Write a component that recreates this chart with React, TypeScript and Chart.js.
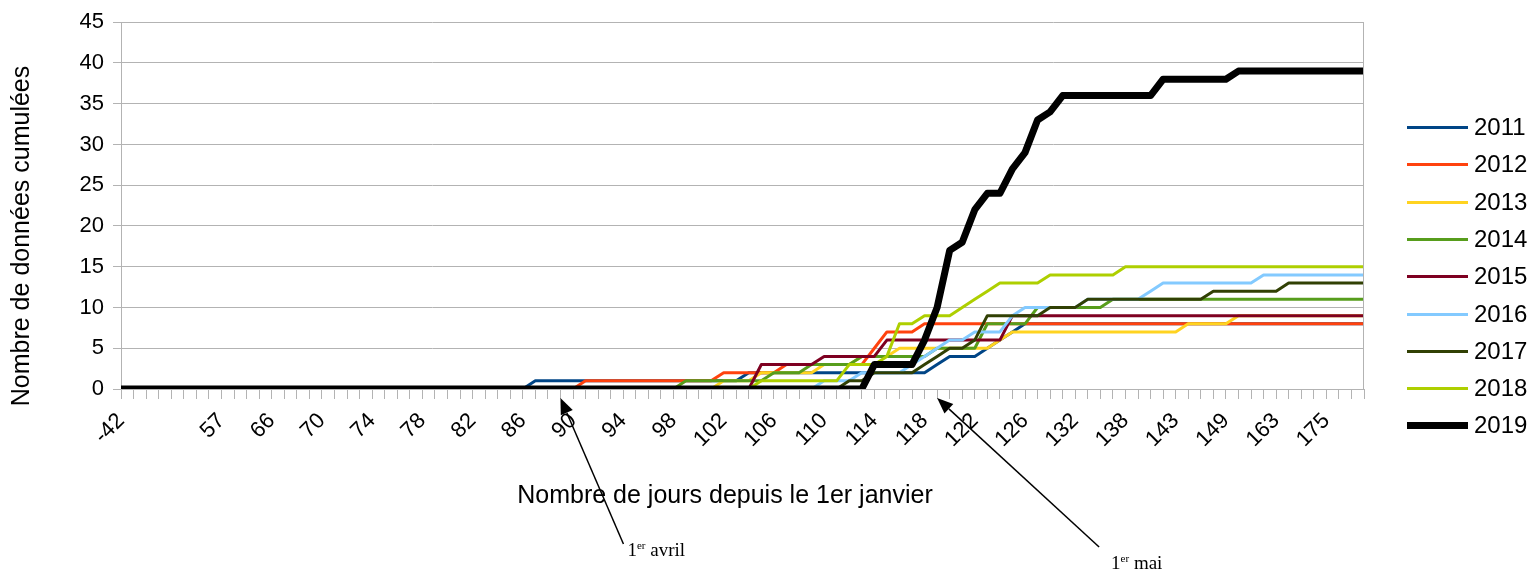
import React, { useEffect, useRef } from 'react';
import { Chart, registerables } from 'chart.js';

Chart.register(...registerables);

// Day numbers (categories) — only every 4th one is labelled on the axis
const categories: string[] = [
  '-42', '-12', '15', '31', '', '44', '49', '53', '57', '60',
  '62', '64', '66', '67', '68', '69', '70', '71', '72', '73',
  '74', '75', '76', '77', '78', '79', '80', '81', '82', '83',
  '84', '85', '86', '87', '88', '89', '90', '91', '92', '93',
  '94', '95', '96', '97', '98', '99', '100', '101', '102', '103',
  '104', '105', '106', '107', '108', '109', '110', '111', '112', '113',
  '114', '115', '116', '117', '118', '119', '120', '121', '122', '123',
  '124', '125', '126', '127', '129', '130', '132', '133', '135', '136',
  '138', '139', '140', '141', '143', '144', '146', '147', '149', '152',
  '156', '160', '163', '166', '169', '172', '175', '177', '180', '182',
];

const s2011: number[] = [
  0, 0, 0, 0, 0, 0, 0, 0, 0, 0,
  0, 0, 0, 0, 0, 0, 0, 0, 0, 0,
  0, 0, 0, 0, 0, 0, 0, 0, 0, 0,
  0, 0, 0, 1, 1, 1, 1, 1, 1, 1,
  1, 1, 1, 1, 1, 1, 1, 1, 1, 1,
  2, 2, 2, 2, 2, 2, 2, 2, 2, 2,
  2, 2, 2, 2, 2, 3, 4, 4, 4, 5,
  6, 7, 8, 8, 8, 8, 8, 8, 8, 8,
  8, 8, 8, 8, 8, 8, 8, 8, 8, 8,
  8, 8, 8, 8, 8, 8, 8, 8, 8, 8,
];

const s2012: number[] = [
  0, 0, 0, 0, 0, 0, 0, 0, 0, 0,
  0, 0, 0, 0, 0, 0, 0, 0, 0, 0,
  0, 0, 0, 0, 0, 0, 0, 0, 0, 0,
  0, 0, 0, 0, 0, 0, 0, 1, 1, 1,
  1, 1, 1, 1, 1, 1, 1, 1, 2, 2,
  2, 2, 2, 3, 3, 3, 3, 3, 3, 3,
  5, 7, 7, 7, 8, 8, 8, 8, 8, 8,
  8, 8, 8, 8, 8, 8, 8, 8, 8, 8,
  8, 8, 8, 8, 8, 8, 8, 8, 8, 8,
  8, 8, 8, 8, 8, 8, 8, 8, 8, 8,
];

const s2013: number[] = [
  0, 0, 0, 0, 0, 0, 0, 0, 0, 0,
  0, 0, 0, 0, 0, 0, 0, 0, 0, 0,
  0, 0, 0, 0, 0, 0, 0, 0, 0, 0,
  0, 0, 0, 0, 0, 0, 0, 0, 0, 0,
  0, 0, 0, 0, 0, 0, 0, 0, 1, 1,
  1, 2, 2, 2, 2, 2, 3, 3, 3, 4,
  4, 4, 5, 5, 5, 5, 5, 5, 5, 5,
  6, 7, 7, 7, 7, 7, 7, 7, 7, 7,
  7, 7, 7, 7, 7, 8, 8, 8, 8, 9,
  9, 9, 9, 9, 9, 9, 9, 9, 9, 9,
];

const s2014: number[] = [
  0, 0, 0, 0, 0, 0, 0, 0, 0, 0,
  0, 0, 0, 0, 0, 0, 0, 0, 0, 0,
  0, 0, 0, 0, 0, 0, 0, 0, 0, 0,
  0, 0, 0, 0, 0, 0, 0, 0, 0, 0,
  0, 0, 0, 0, 0, 1, 1, 1, 1, 1,
  1, 1, 2, 2, 2, 3, 3, 3, 3, 4,
  4, 4, 4, 4, 4, 5, 5, 5, 5, 8,
  8, 8, 8, 10, 10, 10, 10, 10, 10, 11,
  11, 11, 11, 11, 11, 11, 11, 11, 11, 11,
  11, 11, 11, 11, 11, 11, 11, 11, 11, 11,
];

const s2015: number[] = [
  0, 0, 0, 0, 0, 0, 0, 0, 0, 0,
  0, 0, 0, 0, 0, 0, 0, 0, 0, 0,
  0, 0, 0, 0, 0, 0, 0, 0, 0, 0,
  0, 0, 0, 0, 0, 0, 0, 0, 0, 0,
  0, 0, 0, 0, 0, 0, 0, 0, 0, 0,
  0, 3, 3, 3, 3, 3, 4, 4, 4, 4,
  4, 6, 6, 6, 6, 6, 6, 6, 6, 6,
  6, 9, 9, 9, 9, 9, 9, 9, 9, 9,
  9, 9, 9, 9, 9, 9, 9, 9, 9, 9,
  9, 9, 9, 9, 9, 9, 9, 9, 9, 9,
];

const s2016: number[] = [
  0, 0, 0, 0, 0, 0, 0, 0, 0, 0,
  0, 0, 0, 0, 0, 0, 0, 0, 0, 0,
  0, 0, 0, 0, 0, 0, 0, 0, 0, 0,
  0, 0, 0, 0, 0, 0, 0, 0, 0, 0,
  0, 0, 0, 0, 0, 0, 0, 0, 0, 0,
  0, 0, 0, 0, 0, 0, 1, 1, 1, 2,
  2, 2, 2, 3, 4, 5, 6, 6, 7, 7,
  7, 9, 10, 10, 10, 10, 10, 11, 11, 11,
  11, 11, 12, 13, 13, 13, 13, 13, 13, 13,
  13, 14, 14, 14, 14, 14, 14, 14, 14, 14,
];

const s2017: number[] = [
  0, 0, 0, 0, 0, 0, 0, 0, 0, 0,
  0, 0, 0, 0, 0, 0, 0, 0, 0, 0,
  0, 0, 0, 0, 0, 0, 0, 0, 0, 0,
  0, 0, 0, 0, 0, 0, 0, 0, 0, 0,
  0, 0, 0, 0, 0, 0, 0, 0, 0, 0,
  0, 0, 0, 0, 0, 0, 0, 0, 1, 1,
  2, 2, 2, 2, 3, 4, 5, 5, 6, 9,
  9, 9, 9, 9, 10, 10, 10, 11, 11, 11,
  11, 11, 11, 11, 11, 11, 11, 12, 12, 12,
  12, 12, 12, 13, 13, 13, 13, 13, 13, 13,
];

const s2018: number[] = [
  0, 0, 0, 0, 0, 0, 0, 0, 0, 0,
  0, 0, 0, 0, 0, 0, 0, 0, 0, 0,
  0, 0, 0, 0, 0, 0, 0, 0, 0, 0,
  0, 0, 0, 0, 0, 0, 0, 0, 0, 0,
  0, 0, 0, 0, 0, 0, 0, 0, 0, 0,
  0, 1, 1, 1, 1, 1, 1, 1, 3, 3,
  3, 4, 8, 8, 9, 9, 9, 10, 11, 12,
  13, 13, 13, 13, 14, 14, 14, 14, 14, 14,
  15, 15, 15, 15, 15, 15, 15, 15, 15, 15,
  15, 15, 15, 15, 15, 15, 15, 15, 15, 15,
];

const s2019: number[] = [
  0, 0, 0, 0, 0, 0, 0, 0, 0, 0,
  0, 0, 0, 0, 0, 0, 0, 0, 0, 0,
  0, 0, 0, 0, 0, 0, 0, 0, 0, 0,
  0, 0, 0, 0, 0, 0, 0, 0, 0, 0,
  0, 0, 0, 0, 0, 0, 0, 0, 0, 0,
  0, 0, 0, 0, 0, 0, 0, 0, 0, 0,
  3, 3, 3, 3, 6, 10, 17, 18, 22, 24,
  24, 27, 29, 33, 34, 36, 36, 36, 36, 36,
  36, 36, 36, 38, 38, 38, 38, 38, 38, 39,
  39, 39, 39, 39, 39, 39, 39, 39, 39, 39,
];

const seriesNames: string[] = ['2011', '2012', '2013', '2014', '2015', '2016', '2017', '2018', '2019'];
const seriesValues: number[][] = [s2011, s2012, s2013, s2014, s2015, s2016, s2017, s2018, s2019];
const seriesColors: string[] = ['#004586', '#ff420e', '#ffd320', '#579d1c', '#7e0021', '#83caff', '#314004', '#aecf00', '#000000'];
const seriesWidths: number[] = [3, 3, 3, 3, 3, 3, 3, 3, 7];

const yTitle = 'Nombre de données cumulées';
const xTitle = 'Nombre de jours depuis le 1er janvier';
// annotation arrows: category index pointed at, and label
const annotations = [
  { index: 35, dx: 63, dy: 146, text: 'avril', textDx: 67, textDy: 158 },
  { index: 65, dx: 162, dy: 149, text: 'mai', textDx: 174, textDy: 171 },
];

const SANS = '"Liberation Sans", Arial, sans-serif';
const SERIF = '"Liberation Serif", "Times New Roman", serif';

const decorPlugin = {
  id: 'decor',
  afterDraw(chart: any) {
    const { ctx, chartArea, scales } = chart;
    const xs = scales.x;
    const ys = scales.y;
    ctx.save();

    // right border of plot
    ctx.strokeStyle = '#b3b3b3';
    ctx.lineWidth = 1;
    const rx = Math.round(chartArea.right) - 0.5;
    ctx.beginPath();
    ctx.moveTo(rx, chartArea.top);
    ctx.lineTo(rx, chartArea.bottom);
    ctx.stroke();

    // y title
    ctx.fillStyle = '#000';
    ctx.font = `25px ${SANS}`;
    ctx.save();
    ctx.translate(22, 236);
    ctx.rotate(-Math.PI / 2);
    ctx.textAlign = 'center';
    ctx.textBaseline = 'middle';
    ctx.fillText(yTitle, 0, 0);
    ctx.restore();

    // x title
    ctx.textAlign = 'center';
    ctx.textBaseline = 'middle';
    ctx.fillText(xTitle, 725, 496);

    // legend
    const legendTop = 127;
    const legendStep = 37.3;
    chart.data.datasets.forEach((ds: any, i: number) => {
      const ly = Math.round(legendTop + i * legendStep) + 0.5;
      ctx.strokeStyle = ds.borderColor;
      ctx.lineWidth = ds.borderWidth;
      ctx.lineCap = 'butt';
      ctx.beginPath();
      ctx.moveTo(1407, ly);
      ctx.lineTo(1468, ly);
      ctx.stroke();
      ctx.fillStyle = '#000';
      ctx.font = `24px ${SANS}`;
      ctx.textAlign = 'left';
      ctx.textBaseline = 'middle';
      ctx.fillText(ds.label, 1474, ly + 1);
    });

    // annotations
    annotations.forEach((a) => {
      const tipX = xs.getPixelForValue(a.index);
      const tipY = ys.getPixelForValue(0) + 9;
      const tailX = tipX + a.dx;
      const tailY = tipY + a.dy;
      ctx.strokeStyle = '#000';
      ctx.fillStyle = '#000';
      ctx.lineWidth = 1.5;
      const ang = Math.atan2(tipY - tailY, tipX - tailX);
      const headLen = 16;
      const headHalf = 6.5;
      const bx = tipX - headLen * Math.cos(ang);
      const by = tipY - headLen * Math.sin(ang);
      ctx.beginPath();
      ctx.moveTo(tailX, tailY);
      ctx.lineTo(bx, by);
      ctx.stroke();
      ctx.beginPath();
      ctx.moveTo(tipX, tipY);
      ctx.lineTo(bx + headHalf * Math.sin(ang), by - headHalf * Math.cos(ang));
      ctx.lineTo(bx - headHalf * Math.sin(ang), by + headHalf * Math.cos(ang));
      ctx.closePath();
      ctx.fill();

      const tx = tipX + a.textDx;
      const ty = tipY + a.textDy;
      ctx.textAlign = 'left';
      ctx.textBaseline = 'alphabetic';
      ctx.font = `19px ${SERIF}`;
      ctx.fillText('1', tx, ty);
      let w = ctx.measureText('1').width;
      ctx.font = `11px ${SERIF}`;
      ctx.fillText('er', tx + w, ty - 7);
      w += ctx.measureText('er').width;
      ctx.font = `19px ${SERIF}`;
      ctx.fillText(' ' + a.text, tx + w, ty);
    });

    ctx.restore();
  },
};

export default function App() {
  const canvasRef = useRef<HTMLCanvasElement | null>(null);

  useEffect(() => {
    document.body.style.margin = '0';
    const canvas = canvasRef.current;
    if (!canvas) return;
    Chart.defaults.font.family = SANS;

    const chart = new Chart(canvas, {
      type: 'line',
      data: {
        labels: categories,
        datasets: seriesNames.map((name, i) => ({
          label: name,
          data: seriesValues[i],
          borderColor: seriesColors[i],
          backgroundColor: seriesColors[i],
          borderWidth: seriesWidths[i],
          pointRadius: 0,
          pointHoverRadius: 0,
          tension: 0,
          fill: false,
          borderJoinStyle: 'round' as const,
          order: seriesNames.length - i,
        })),
      },
      options: {
        animation: false,
        responsive: false,
        events: [],
        layout: { padding: { left: 0, right: 170, top: 22, bottom: 0 } },
        plugins: {
          legend: { display: false },
          tooltip: { enabled: false },
          title: { display: false },
        },
        scales: {
          x: {
            type: 'category',
            offset: false,
            afterFit: (scale: any) => {
              scale.height = 184;
            },
            grid: {
              display: true,
              drawOnChartArea: false,
              drawTicks: true,
              tickLength: 10,
              color: '#b3b3b3',
              offset: false,
            },
            border: { display: true, color: '#b3b3b3' },
            ticks: {
              autoSkip: false,
              minRotation: 45,
              maxRotation: 45,
              padding: 9,
              color: '#000',
              font: { size: 22, family: SANS },
              callback: (_v: any, index: number) => (index % 4 === 0 ? categories[index] : ''),
            },
          },
          y: {
            type: 'linear',
            min: 0,
            max: 45,
            afterFit: (scale: any) => {
              scale.width = 121;
            },
            grid: {
              color: '#b3b3b3',
              drawTicks: true,
              tickLength: 8,
            },
            border: { display: true, color: '#b3b3b3' },
            ticks: {
              stepSize: 5,
              padding: 9,
              color: '#000',
              font: { size: 22, family: SANS },
            },
          },
        },
      },
      plugins: [decorPlugin],
    });

    return () => {
      chart.destroy();
    };
  }, []);

  return (
    <div style={{ width: 1534, height: 573, position: 'relative' }}>
      <canvas ref={canvasRef} width={1534} height={573} style={{ display: 'block' }} />
    </div>
  );
}
